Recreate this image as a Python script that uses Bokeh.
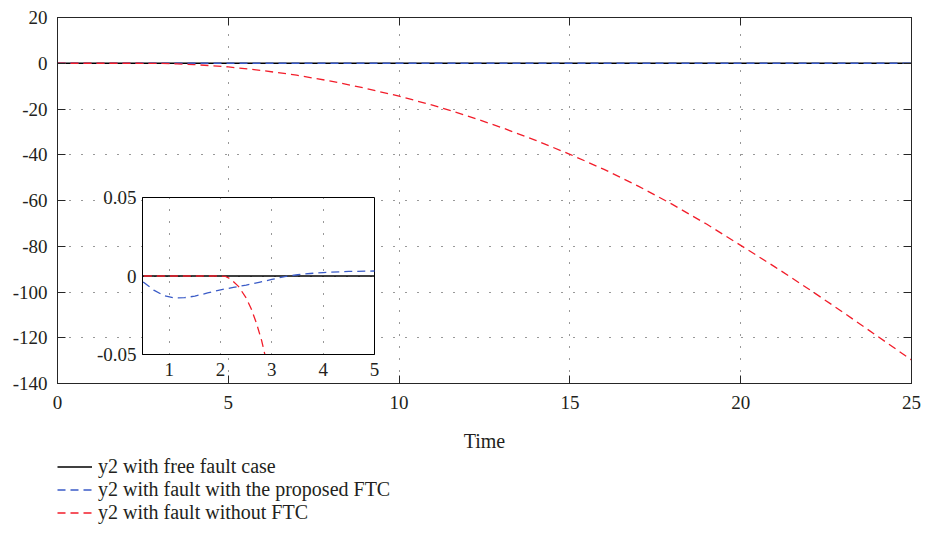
from bokeh.plotting import figure
from bokeh.models import Range1d, FixedTicker, LinearAxis, Legend, LegendItem, CustomJSTickFormatter
from bokeh.layouts import column
from bokeh.embed import file_html
from bokeh.resources import INLINE

# ---------------- data ----------------
t_free = [0, 25]
y2_free = [0, 0]

t_ftc = [0, 0.25, 0.5, 0.7, 0.9, 1.1, 1.3, 1.5, 1.75, 2.0, 2.25, 2.5, 2.75, 3.0,
         3.25, 3.5, 3.75, 4.0, 4.5, 5.0, 6, 8, 10, 15, 20, 25]
y2_ftc = [0, -0.0015, -0.004, -0.009, -0.0125, -0.014, -0.0138, -0.0128, -0.0108,
          -0.0088, -0.0073, -0.0058, -0.004, -0.0022, -0.0004, 0.0008, 0.0016,
          0.0022, 0.0029, 0.0032, 0.0033, 0.0033, 0.0033, 0.0033, 0.0033, 0.0033]

t_noftc = [0, 1, 2.0, 2.1, 2.2, 2.35, 2.5, 2.6, 2.7, 2.8, 2.9, 3.0, 3.5, 4, 4.5, 5,
           6, 7, 8, 9, 10, 11, 12, 13, 14, 15, 16, 17, 18, 19, 20, 21, 22, 23, 24, 25]
y2_noftc = [0, 0, 0, -0.0003, -0.002, -0.0066, -0.014, -0.021, -0.03, -0.041, -0.055,
            -0.07, -0.25, -0.6, -1.05, -1.6, -3.2, -5.2, -7.8, -10.9, -14.4, -18.4,
            -23.0, -28.1, -33.7, -39.8, -46.4, -53.7, -61.7, -70.3, -79.6, -89.0,
            -98.8, -108.9, -119.3, -129.7]

main_x_ticks = [0, 5, 10, 15, 20, 25]
main_y_ticks = [20, 0, -20, -40, -60, -80, -100, -120, -140]
inset_x_ticks = [1, 2, 3, 4, 5]
inset_y_ticks = [-0.05, 0, 0.05]
legend_labels = ["y2 with free fault case",
                 "y2 with fault with the proposed FTC",
                 "y2 with fault without FTC"]

# ---------------- style ----------------
FONT = "Liberation Serif"
TXT = "#231f20"
AX = "#262626"
BLUE = "#3a5bc7"
RED = "#f21d2a"
DASH = "8 5"
GRID_DASH = "1 11"

fmt = CustomJSTickFormatter(code="return String(tick);")
blank = CustomJSTickFormatter(code="return '';")

p = figure(width=926, height=537, output_backend="svg", toolbar_location=None,
           x_range=Range1d(0, 25), y_range=Range1d(-140, 20),
           min_border_left=56, min_border_right=13, min_border_top=17,
           min_border_bottom=154, x_axis_label="Time")
p.outline_line_color = AX
p.background_fill_color = "white"
p.border_fill_color = "white"

p.xaxis.ticker = FixedTicker(ticks=main_x_ticks)
p.yaxis.ticker = FixedTicker(ticks=main_y_ticks)
p.xaxis.formatter = fmt
p.yaxis.formatter = fmt
for ax in (p.xaxis[0], p.yaxis[0]):
    ax.major_tick_in = 8
    ax.major_tick_out = 0
    ax.minor_tick_line_color = None
    ax.axis_line_color = AX
    ax.major_tick_line_color = AX
    ax.major_label_text_font = FONT
    ax.major_label_text_font_size = "19px"
    ax.major_label_text_color = TXT
    ax.axis_label_text_font = FONT
    ax.axis_label_text_font_size = "20px"
    ax.axis_label_text_font_style = "normal"
    ax.axis_label_text_color = TXT
p.xaxis.major_label_standoff = 12
p.yaxis.major_label_standoff = 10
p.xaxis.axis_label_standoff = 18

top = LinearAxis(ticker=FixedTicker(ticks=main_x_ticks), formatter=blank,
                 major_tick_in=8, major_tick_out=0,
                 minor_tick_line_color=None, axis_line_color=AX, major_tick_line_color=AX,
                 major_label_standoff=0)
right = LinearAxis(ticker=FixedTicker(ticks=main_y_ticks), formatter=blank,
                   major_tick_in=8, major_tick_out=0,
                   minor_tick_line_color=None, axis_line_color=AX, major_tick_line_color=AX,
                   major_label_standoff=0)
p.add_layout(top, "above")
p.add_layout(right, "right")

p.xgrid.ticker = FixedTicker(ticks=main_x_ticks)
p.ygrid.ticker = FixedTicker(ticks=main_y_ticks)
for g in (p.xgrid[0], p.ygrid[0]):
    g.grid_line_color = "#333333"
    g.grid_line_dash = GRID_DASH
    g.grid_line_width = 1

p.line(t_free, y2_free, line_color="black", line_width=1.3)
p.line(t_ftc, y2_ftc, line_color=BLUE, line_width=1.3, line_dash=DASH)
p.line(t_noftc, y2_noftc, line_color=RED, line_width=1.3, line_dash=DASH)

# ---------------- inset ----------------
INS_TOP = 15
ins = figure(width=304, height=INS_TOP + 157 + 30, output_backend="svg", toolbar_location=None,
             x_range=Range1d(0.48, 5), y_range=Range1d(-0.05, 0.05),
             min_border_left=55, min_border_right=15, min_border_top=INS_TOP,
             min_border_bottom=30, margin=(197 - INS_TOP - 537, 0, 0, 85))
ins.border_fill_alpha = 0
ins.background_fill_color = "white"
ins.outline_line_color = "black"
ins.xaxis.ticker = FixedTicker(ticks=inset_x_ticks)
ins.yaxis.ticker = FixedTicker(ticks=inset_y_ticks)
ins.xaxis.formatter = fmt
ins.yaxis.formatter = CustomJSTickFormatter(code="return tick == 0 ? '0' : tick.toFixed(2);")
for ax in (ins.xaxis[0], ins.yaxis[0]):
    ax.major_tick_in = 0
    ax.major_tick_out = 0
    ax.minor_tick_line_color = None
    ax.axis_line_color = "black"
    ax.major_label_text_font = FONT
    ax.major_label_text_font_size = "19px"
    ax.major_label_text_color = TXT
ins.xaxis.major_label_standoff = 8
ins.yaxis.major_label_standoff = 6
ins.xgrid.ticker = FixedTicker(ticks=inset_x_ticks)
ins.ygrid.ticker = FixedTicker(ticks=inset_y_ticks)
for g in (ins.xgrid[0], ins.ygrid[0]):
    g.grid_line_color = "#333333"
    g.grid_line_dash = GRID_DASH
    g.grid_line_width = 1

ins.line(t_free, y2_free, line_color="black", line_width=1.3)
ins.line(t_ftc, y2_ftc, line_color=BLUE, line_width=1.3, line_dash=DASH)
ins.line(t_noftc, y2_noftc, line_color=RED, line_width=1.3, line_dash=DASH)

# ---------------- legend (separate strip below the axes) ----------------
# the series are re-plotted here outside this strip's y range (so nothing shows),
# only to give the legend entries their line styles
LEG_H = 75
leg = figure(width=926, height=LEG_H, output_backend="svg", toolbar_location=None,
             x_range=Range1d(0, 25), y_range=Range1d(1, 2),
             x_axis_location=None, y_axis_location=None,
             min_border_left=57, min_border_right=0, min_border_top=0, min_border_bottom=0,
             margin=(455 - 384, 0, 0, 0))
leg.outline_line_color = None
leg.grid.visible = False
l1 = leg.line(t_free, y2_free, line_color="black", line_width=1.3)
l2 = leg.line(t_ftc, y2_ftc, line_color=BLUE, line_width=1.3, line_dash=DASH)
l3 = leg.line(t_noftc, y2_noftc, line_color=RED, line_width=1.3, line_dash=DASH)
legend = Legend(items=[LegendItem(label=legend_labels[0], renderers=[l1]),
                       LegendItem(label=legend_labels[1], renderers=[l2]),
                       LegendItem(label=legend_labels[2], renderers=[l3])],
                location="top_left", orientation="vertical")
legend.border_line_color = None
legend.background_fill_alpha = 0
legend.label_text_font = FONT
legend.label_text_font_size = "20px"
legend.label_text_color = TXT
legend.glyph_width = 35
legend.glyph_height = 23
legend.label_height = 23
legend.spacing = 0
legend.padding = 0
legend.margin = 0
legend.label_standoff = 6
leg.add_layout(legend, "center")

layout = column(p, ins, leg, spacing=0)
open("out.html", "w").write(file_html(layout, INLINE))
